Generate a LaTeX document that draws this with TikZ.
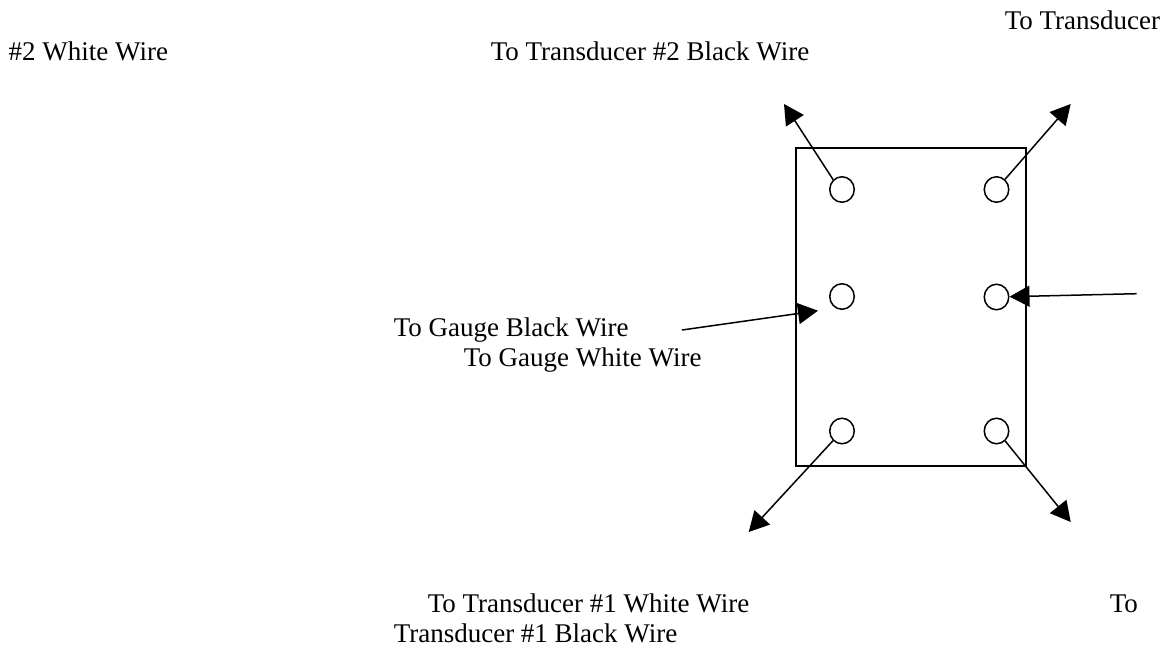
\documentclass[tikz,border=0pt]{standalone}
\usepackage{fontspec}
\setmainfont{Liberation Serif}
\usetikzlibrary{arrows.meta,shapes.geometric}
\tikzset{
lbl/.style={anchor=base west,inner sep=0pt,font=\fontsize{27pt}{30pt}\selectfont},
hole/.style={draw,ellipse,minimum width=24.5pt,minimum height=25.5pt,inner sep=0pt},
wire/.style={-{Triangle[length=20pt,width=21pt]},line width=1.5pt}
}
\begin{document}
\begin{tikzpicture}[x=1pt,y=-1pt,line width=1.5pt]
\useasboundingbox (0,0) rectangle (1167,648);
\draw (796,148) rectangle (1026,466);
\node[hole] (h1) at (842,189.5) {};
\node[hole] (h2) at (996.5,189.5) {};
\node[hole] (h3) at (842,296.5) {};
\node[hole] (h4) at (996.5,297) {};
\node[hole] (h5) at (842,431) {};
\node[hole] (h6) at (996.5,431) {};
\coordinate (t1) at (784,104);
\coordinate (t2) at (1070.7,104);
\coordinate (s3) at (682,330);
\coordinate (t3) at (818,310.7);
\coordinate (s4) at (1136.7,293.7);
\coordinate (t5) at (748.7,532);
\coordinate (t6) at (1070.7,522);
\draw[wire] (h1.132) -- (t1);
\draw[wire] (h2.50) -- (t2);
\draw[wire] (s3) -- (t3);
\draw[wire] (s4) -- (h4);
\draw[wire] (h5.227) -- (t5);
\draw[wire] (h6.311) -- (t6);
\node[lbl] (a) at (1004,29) {To Transducer};
\node[lbl] (b) at (8,60.5) {\#2 White Wire};
\node[lbl] (c) at (490,60.5) {To Transducer \#2 Black Wire};
\node[lbl] (d) at (393,336) {To Gauge Black Wire};
\node[lbl] (e) at (463,366) {To Gauge White Wire};
\node[lbl] (f) at (427,612) {To Transducer \#1 White Wire};
\node[lbl] (g) at (1109,612) {To};
\node[lbl] (i) at (393,642) {Transducer \#1 Black Wire};
\end{tikzpicture}
\end{document}
